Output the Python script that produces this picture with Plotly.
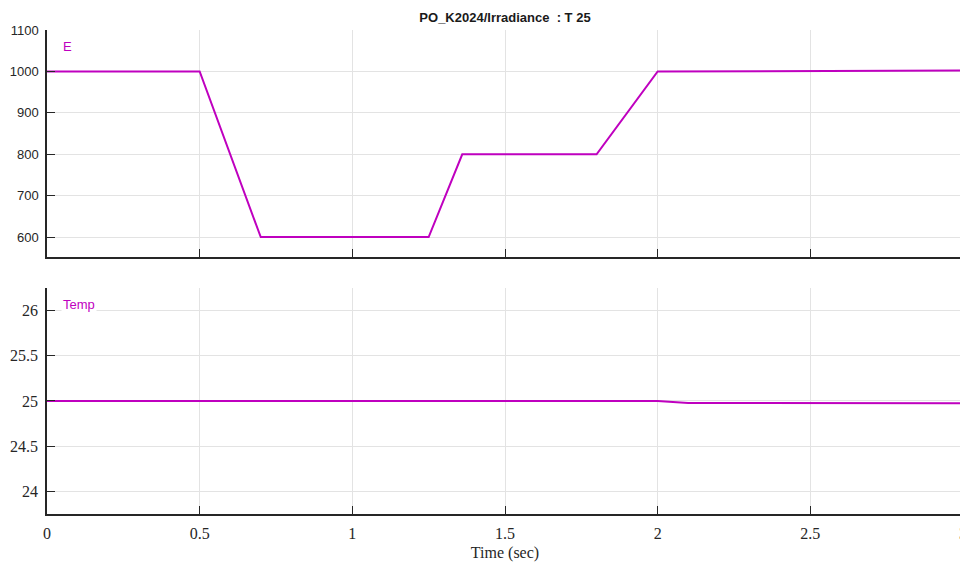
import plotly.graph_objects as go
from plotly.subplots import make_subplots

# Irradiance signal (E)
t_e = [0, 0.5, 0.7, 1.25, 1.36, 1.8, 2.0, 3.0]
e_vals = [1000, 1000, 600, 600, 800, 800, 1000, 1002]

# Temperature signal
t_temp = [0, 2.0, 2.1, 3.0]
temp_vals = [25, 25, 24.978, 24.976]

x_ticks = [0, 0.5, 1, 1.5, 2, 2.5, 3]
x_labels = ["0", "0.5", "1", "1.5", "2", "2.5", "3"]
e_ticks = [600, 700, 800, 900, 1000, 1100]
temp_ticks = [24, 24.5, 25, 25.5, 26]

line_color = "#bf00bf"
axis_color = "#262626"
grid_color = "#e3e3e3"

fig = make_subplots(rows=2, cols=1, shared_xaxes=True)

fig.add_trace(go.Scatter(x=t_e, y=e_vals, mode="lines",
                         line=dict(color=line_color, width=2), showlegend=False),
              row=1, col=1)
fig.add_trace(go.Scatter(x=t_temp, y=temp_vals, mode="lines",
                         line=dict(color=line_color, width=2), showlegend=False),
              row=2, col=1)

common_x = dict(range=[0, 3], tickvals=x_ticks, ticktext=x_labels,
                showgrid=True, gridcolor=grid_color, gridwidth=1,
                showline=True, linecolor=axis_color, linewidth=1.5,
                ticks="inside", ticklen=8, tickcolor=axis_color, zeroline=False)

fig.update_xaxes(**common_x, showticklabels=False, domain=[0, 1], row=1, col=1)
fig.update_xaxes(**common_x, showticklabels=True, domain=[0, 1],
                 tickfont=dict(family="Liberation Serif", size=16, color="#262626"),
                 ticklabelstandoff=4, ticklabeloverflow="allow",
                 title=dict(text="Time (sec)", standoff=7,
                            font=dict(family="Liberation Serif", size=16, color="#262626")),
                 row=2, col=1)

fig.update_yaxes(range=[552, 1100], tickvals=e_ticks, domain=[0.531, 1],
                 showgrid=True, gridcolor=grid_color, zeroline=False,
                 showline=True, linecolor=axis_color, linewidth=1.5,
                 ticks="inside", ticklen=8, tickcolor=axis_color,
                 ticklabelstandoff=4,
                 tickfont=dict(family="Liberation Sans", size=13, color="#262626"),
                 row=1, col=1)
fig.update_yaxes(range=[23.75, 26.25], tickvals=temp_ticks, domain=[0, 0.467],
                 showgrid=True, gridcolor=grid_color, zeroline=False,
                 showline=True, linecolor=axis_color, linewidth=1.5,
                 ticks="inside", ticklen=8, tickcolor=axis_color,
                 ticklabelstandoff=4,
                 tickfont=dict(family="Liberation Serif", size=16, color="#262626"),
                 row=2, col=1)

# legend-style labels
fig.add_annotation(x=0.045, y=1060, xref="x", yref="y", text="E", showarrow=False,
                   xanchor="left", yanchor="middle", bgcolor="white",
                   font=dict(family="Liberation Sans", size=13, color=line_color))
fig.add_annotation(x=0.045, y=26.07, xref="x2", yref="y2", text="Temp", showarrow=False,
                   xanchor="left", yanchor="middle", bgcolor="white",
                   font=dict(family="Liberation Sans", size=13, color=line_color))

# page body has an 8px margin, so the figure is sized to fill the rest of the window
fig.update_layout(
    width=960, height=554,
    margin=dict(l=39, r=1, t=22, b=48),
    plot_bgcolor="white", paper_bgcolor="white",
    title=dict(text="<b>PO_K2024/Irradiance  : T 25</b>", x=0.5, xref="paper",
               y=1 - 9 / 554, yref="container", yanchor="middle",
               font=dict(family="Liberation Sans", size=13, color="#1a1a1a")),
)

# clip the half-visible "3" label at the window edge instead of widening the page
fig.write_html("out.html",
               post_script="document.documentElement.style.overflow='hidden';"
                           "document.body.style.overflow='hidden';")
